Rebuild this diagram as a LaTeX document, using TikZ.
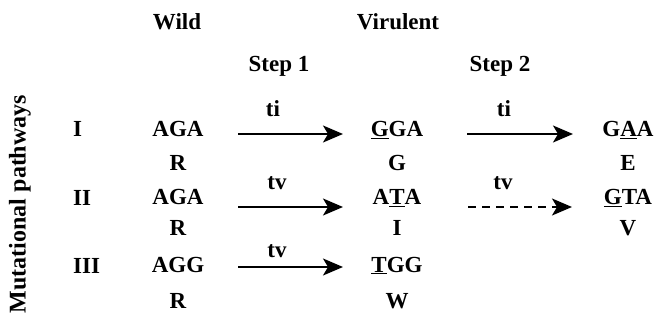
\documentclass[tikz,border=0pt]{standalone}
\usepackage{fontspec}
\setmainfont{Liberation Serif}
\usetikzlibrary{arrows.meta}
\newcommand\myul[1]{\underline{#1}}
\begin{document}
\begin{tikzpicture}[x=1pt,y=-1pt,
  lab/.style={font=\fontsize{23}{27}\selectfont\bfseries, inner sep=0pt, anchor=base},
  arr/.style={line width=2pt, -{Stealth[length=20pt,width=17pt,inset=5pt]}},
  darr/.style={arr, dash pattern=on 8pt off 6pt}]
\useasboundingbox (0,0) rectangle (655,320);
% headers
\node[lab] (wild) at (177,30) {Wild};
\node[lab] (vir) at (398,30) {Virulent};
\node[lab] (s1) at (279,72) {Step 1};
\node[lab] (s2) at (500,72) {Step 2};
% side label
\node[lab, font=\fontsize{24}{28}\selectfont\bfseries, rotate=90, anchor=center] (mp) at (20,204) {Mutational pathways};
% roman numerals
\node[lab, anchor=base west] (n1) at (73,137) {I};
\node[lab, anchor=base west] (n2) at (73,206) {II};
\node[lab, anchor=base west] (n3) at (73,273) {III};
% wild column
\node[lab] (w1) at (178,137) {AGA};
\node[lab] (wr1) at (178,171) {R};
\node[lab] (w2) at (178,205) {AGA};
\node[lab] (wr2) at (178,236) {R};
\node[lab] (w3) at (178,272) {AGG};
\node[lab] (wr3) at (178,308) {R};
% virulent column
\node[lab] (v1) at (397,137) {\myul{G}GA};
\node[lab] (vr1) at (397,171) {G};
\node[lab] (v2) at (397,205) {A\myul{T}A};
\node[lab] (vr2) at (397,236) {I};
\node[lab] (v3) at (397,272) {\myul{T}GG};
\node[lab] (vr3) at (397,308) {W};
% step 2 column
\node[lab] (x1) at (628,137) {G\myul{A}A};
\node[lab] (xr1) at (628,171) {E};
\node[lab] (x2) at (628,205) {\myul{G}TA};
\node[lab] (xr2) at (628,236) {V};
% arrow ends
\coordinate (a1s) at (238,134); \coordinate (a1e) at (343,134);
\coordinate (b1s) at (467,134); \coordinate (b1e) at (573,134);
\coordinate (a2s) at (238,207); \coordinate (a2e) at (343,207);
\coordinate (b2s) at (468,207); \coordinate (b2e) at (572,207);
\coordinate (a3s) at (238,267); \coordinate (a3e) at (343,267);
\draw[arr] (a1s) -- (a1e);
\draw[arr] (b1s) -- (b1e);
\draw[arr] (a2s) -- (a2e);
\draw[darr] (b2s) -- (b2e);
\draw[arr] (a3s) -- (a3e);
% arrow labels
\node[lab] (t1) at (273,117) {ti};
\node[lab] (t2) at (504,117) {ti};
\node[lab] (t3) at (277,190) {tv};
\node[lab] (t4) at (503,190) {tv};
\node[lab] (t5) at (277,257) {tv};
\end{tikzpicture}
\end{document}
